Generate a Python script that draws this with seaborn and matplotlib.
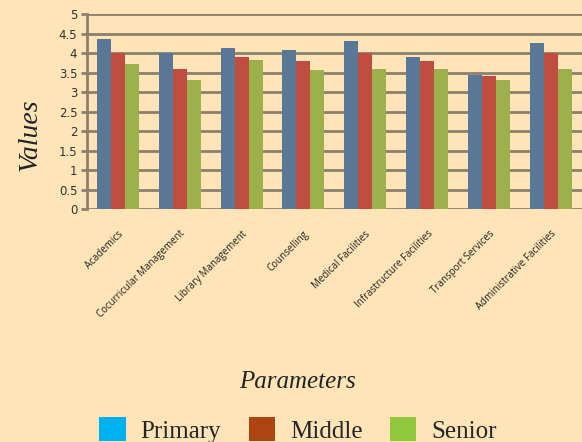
import matplotlib
matplotlib.use('Agg')
import matplotlib.pyplot as plt
from matplotlib.patches import Patch
import seaborn as sns
import pandas as pd

# data
parameters = ['Academics', 'Cocurricular Management', 'Library Management', 'Counselling',
              'Medical Facilities', 'Infrastructure Facilities', 'Transport Services',
              'Administrative Facilities']
levels = ['Primary', 'Middle', 'Senior']
primary = [4.35, 4.01, 4.13, 4.07, 4.32, 3.91, 3.44, 4.26]
middle = [4.01, 3.60, 3.91, 3.81, 4.01, 3.81, 3.41, 4.01]
senior = [3.73, 3.32, 3.82, 3.56, 3.60, 3.60, 3.31, 3.60]
y_ticks = [0, 0.5, 1, 1.5, 2, 2.5, 3, 3.5, 4, 4.5, 5]
y_tick_labels = ['0', '0.5', '1', '1.5', '2', '2.5', '3', '3.5', '4', '4.5', '5']

bar_colors = ['#5a7896', '#c04d40', '#9eb04c']
legend_colors = ['#00b0f0', '#ae4510', '#92c83e']
bg = '#fee4b6'
grid_c = '#8c7f6c'

rows = []
for i, p in enumerate(parameters):
    for lvl, vals in zip(levels, [primary, middle, senior]):
        rows.append({'Parameter': p, 'Level': lvl, 'Value': vals[i]})
df = pd.DataFrame(rows)

sns.set_style('white')
fig = plt.figure(figsize=(5.82, 4.42), dpi=100, facecolor=bg)
ax = fig.add_axes([0.1495, 0.527, 0.85, 0.441])
ax.set_facecolor(bg)

sns.barplot(data=df, x='Parameter', y='Value', hue='Level', palette=bar_colors,
            saturation=1, width=0.68, gap=0, edgecolor='none', linewidth=0,
            ax=ax, zorder=3)
ax.get_legend().remove()

ax.set_ylim(0, 5)
ax.set_xlim(-0.5, len(parameters) - 0.5)
ax.set_yticks(y_ticks)
ax.set_yticklabels(y_tick_labels, fontsize=8.5, color='#333333', family='DejaVu Sans')
ax.yaxis.grid(True, color=grid_c, linewidth=2)
ax.set_axisbelow(True)
ax.tick_params(axis='y', length=4, width=2, color=grid_c, pad=3, left=True)
ax.tick_params(axis='x', length=0, pad=14)
for s in ['top', 'right', 'bottom']:
    ax.spines[s].set_visible(False)
ax.spines['left'].set_color(grid_c)
ax.spines['left'].set_linewidth(2)

ax.set_xticks(range(len(parameters)))
ax.set_xticklabels(parameters, rotation=45, ha='right', rotation_mode='anchor',
                   fontsize=7, family='Open Sans', color='#222222')
ax.set_xlabel('')
ax.set_ylabel('')

fig.text(0.052, 1 - 135 / 442, 'Values', rotation=90, ha='center', va='center',
         fontsize=20, style='italic', family='Liberation Serif', color='#222222')
fig.text(298 / 582, 1 - 382 / 442, 'Parameters', ha='center', va='center',
         fontsize=18, style='italic', family='Liberation Serif', color='#222222')

handles = [Patch(facecolor=c, edgecolor='none') for c in legend_colors]
fig.legend(handles, levels, loc='center', bbox_to_anchor=(298 / 582, 1 - 430 / 442),
           ncol=3, frameon=False, prop={'family': 'Liberation Serif', 'size': 18},
           handlelength=1.05, handleheight=1.05, handletextpad=0.6, columnspacing=1.1,
           borderaxespad=0, borderpad=0)

fig.savefig('out.png', dpi=100, facecolor=bg)
